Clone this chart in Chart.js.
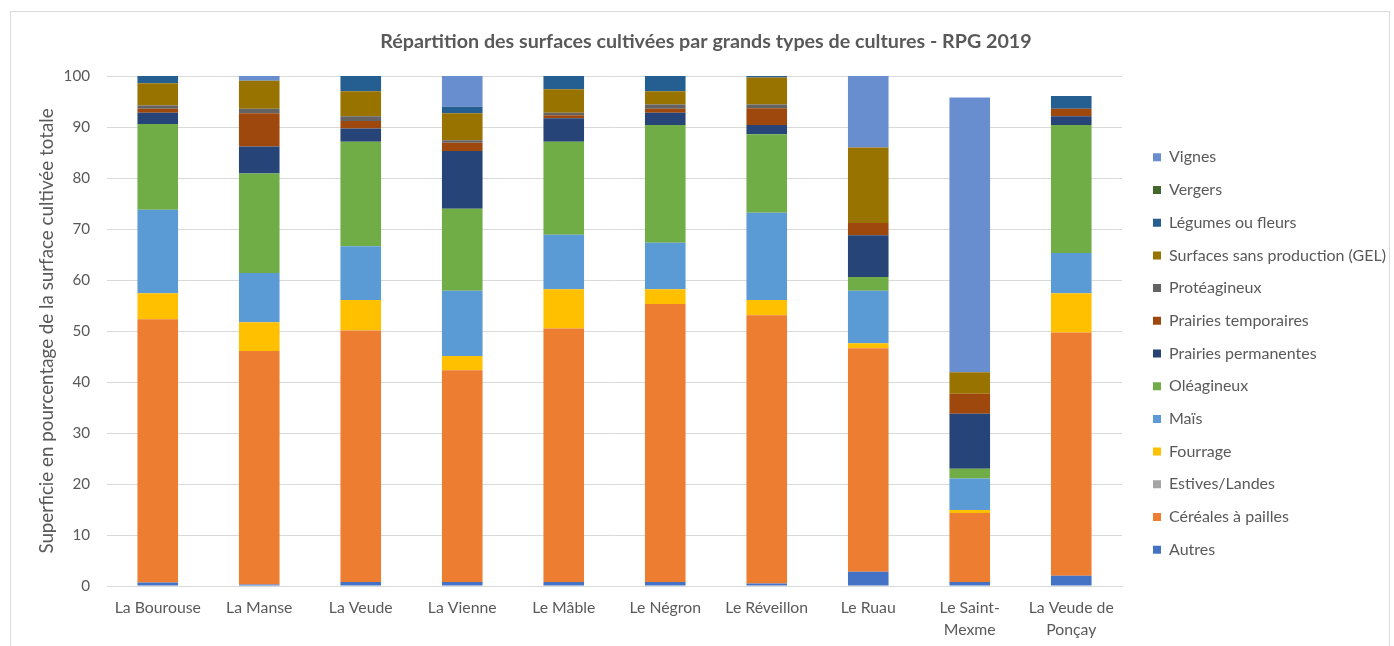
<!DOCTYPE html>
<html lang="fr">
<head>
<meta charset="utf-8">
<title>Répartition des surfaces cultivées - RPG 2019</title>
<script src="https://cdn.jsdelivr.net/npm/chart.js@4/dist/chart.umd.min.js"></script>
<style>
  html, body { margin: 0; padding: 0; background: #ffffff; }
  #wrap { position: relative; width: 1394px; height: 646px; overflow: hidden; }
  #wrap canvas { position: absolute; left: 0; top: 0; }
  #frame { position: absolute; left: 10px; top: 11px; width: 1378px; height: 720px;
           border: 1px solid #d9d9d9; pointer-events: none; }
</style>
</head>
<body>
<div id="wrap">
  <canvas id="chart" width="1394" height="646"></canvas>
  <div id="frame"></div>
</div>
<script>
// Bassins versants (catégories de l'axe X)
const categories = [
  'La Bourouse', 'La Manse', 'La Veude', 'La Vienne', 'Le Mâble',
  'Le Négron', 'Le Réveillon', 'Le Ruau', ['Le Saint-', 'Mexme'], ['La Veude de', 'Ponçay']
];

// Part de chaque type de culture (% de la surface cultivée totale)
const autres        = [0.7, 0.3, 0.8, 0.8, 0.8, 0.8, 0.5, 2.8, 0.8, 2.0];
const cereales      = [51.6, 45.8, 49.3, 41.5, 49.7, 54.5, 52.6, 43.8, 13.5, 47.7];
const estives       = [0, 0, 0, 0, 0, 0, 0, 0, 0, 0];
const fourrage      = [5.1, 5.6, 6.0, 2.8, 7.7, 2.9, 3.0, 1.0, 0.6, 7.7];
const mais          = [16.4, 9.7, 10.5, 12.8, 10.7, 9.1, 17.1, 10.3, 6.2, 7.9];
const oleagineux    = [16.8, 19.5, 20.5, 16.1, 18.2, 23.1, 15.4, 2.7, 1.9, 25.1];
const prairiesPerm  = [2.2, 5.3, 2.6, 11.3, 4.6, 2.4, 1.8, 8.2, 10.8, 1.7];
const prairiesTemp  = [0.8, 6.5, 1.5, 1.6, 0.6, 0.8, 3.3, 2.4, 3.9, 1.5];
const proteagineux  = [0.6, 0.9, 0.9, 0.5, 0.5, 0.8, 0.7, 0, 0, 0];
const gel           = [4.4, 5.5, 4.9, 5.3, 4.6, 2.6, 5.3, 14.8, 4.2, 0];
const legumes       = [1.4, 0, 3.0, 1.3, 2.6, 3.0, 0.3, 0, 0, 2.5];
const vergers       = [0, 0, 0, 0, 0, 0, 0, 0, 0, 0];
const vignes        = [0, 0.9, 0, 6.0, 0, 0, 0, 14.0, 53.9, 0];

// Graduations de l'axe Y
const yTicks = [0, 10, 20, 30, 40, 50, 60, 70, 80, 90, 100];

// Séries empilées, de bas en haut
const series = [
  ['Autres', autres, '#4472c4'],
  ['Céréales à pailles', cereales, '#ed7d31'],
  ['Estives/Landes', estives, '#a5a5a5'],
  ['Fourrage', fourrage, '#ffc000'],
  ['Maïs', mais, '#5b9bd5'],
  ['Oléagineux', oleagineux, '#70ad47'],
  ['Prairies permanentes', prairiesPerm, '#264478'],
  ['Prairies temporaires', prairiesTemp, '#9e480e'],
  ['Protéagineux', proteagineux, '#636363'],
  ['Surfaces sans production (GEL)', gel, '#997300'],
  ['Légumes ou fleurs', legumes, '#255e91'],
  ['Vergers', vergers, '#43682b'],
  ['Vignes', vignes, '#698ed0']
];

const TEXT = '#595959';
const GRID = '#d9d9d9';
const FONT = 'Lato, "Open Sans", sans-serif';

// Rapproche la légende de la zone de tracé (le bord droit reste en place)
const legendOffset = {
  id: 'legendOffset',
  afterLayout(chart, args, opts) {
    const lg = chart.legend;
    if (!lg) return;
    lg.left += opts.dx;
    lg.top += opts.dy; lg.bottom += opts.dy;
  }
};

function draw() {
  new Chart(document.getElementById('chart'), {
    type: 'bar',
    data: {
      labels: categories,
      datasets: series.map(([label, data, color]) => ({
        label, data,
        backgroundColor: color,
        borderWidth: 0,
        yAxisID: 'y'
      }))
    },
    plugins: [legendOffset],
    options: {
      responsive: false,
      animation: false,
      devicePixelRatio: 1,
      layout: { padding: { left: 18, right: 0, top: 0, bottom: 0 } },
      datasets: { bar: { categoryPercentage: 1.0, barPercentage: 0.4 } },
      scales: {
        x: {
          stacked: true,
          grid: { display: false, drawTicks: false },
          border: { display: true, color: GRID, width: 1 },
          ticks: {
            color: TEXT, padding: 11, maxRotation: 0, autoSkip: false,
            font: { family: FONT, size: 15.8, lineHeight: 1.39 }
          },
          afterFit(scale) { scale.height = 60; }
        },
        y: {
          stacked: true,
          min: 0, max: 100,
          afterBuildTicks(scale) { scale.ticks = yTicks.map(v => ({ value: v })); },
          grid: { color: GRID, lineWidth: 1, drawTicks: false },
          border: { display: false },
          ticks: { color: TEXT, padding: 17, font: { family: FONT, size: 15.2 } },
          title: {
            display: true,
            text: 'Superficie en pourcentage de la surface cultivée totale',
            color: TEXT,
            font: { family: FONT, size: 18.8 },
            padding: { top: 17.7, bottom: 0 }
          },
          afterFit(scale) { scale.width = 89; }
        },
        gap: {
          position: 'right',
          display: true,
          grid: { display: false },
          border: { display: false },
          ticks: { display: false },
          afterFit(scale) { scale.width = 72; }
        }
      },
      plugins: {
        title: {
          display: true,
          text: 'Répartition des surfaces cultivées par grands types de cultures - RPG 2019',
          color: TEXT,
          font: { family: FONT, size: 19.7, weight: 'bold' },
          padding: { top: 30.2, bottom: 22.2 }
        },
        legend: {
          position: 'right',
          align: 'center',
          fullSize: false,
          reverse: true,
          maxWidth: 200,
          labels: {
            color: TEXT,
            boxWidth: 8,
            boxHeight: 8,
            padding: 16.7,
            font: { family: FONT, size: 16 }
          }
        },
        legendOffset: { dx: -57.7, dy: 22.5 },
        tooltip: { enabled: false }
      }
    }
  });
}

if (document.fonts && document.fonts.load) {
  Promise.all([
    document.fonts.load('16px Lato'),
    document.fonts.load('bold 20px Lato')
  ]).then(draw, draw);
} else {
  draw();
}
</script>
</body>
</html>
